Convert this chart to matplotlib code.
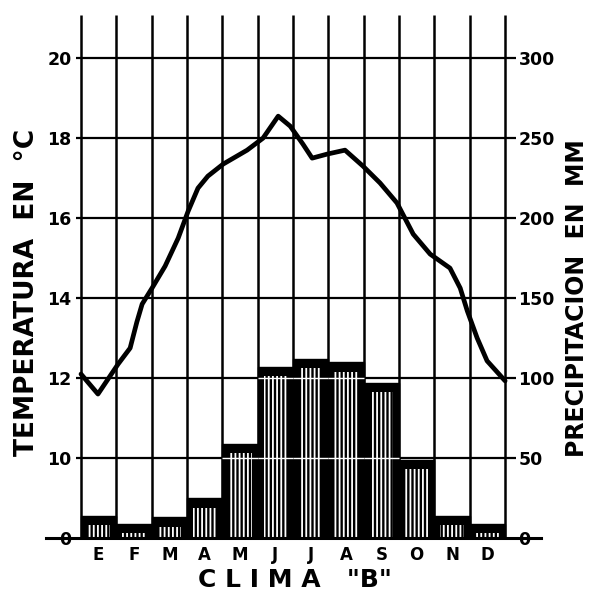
import matplotlib.pyplot as plt
import numpy as np

meses = ['E', 'F', 'M', 'A', 'M', 'J', 'J', 'A', 'S', 'O', 'N', 'D']
precipitacion = [14, 9, 13, 25, 59, 107, 112, 110, 97, 49, 14, 9]  # mm

# curva de temperatura (posicion en meses, grados C)
temp_x = [0.0, 0.48, 1.05, 1.39, 1.58, 1.73, 2.01, 2.38, 2.75, 3.03, 3.31, 3.59,
          4.02, 4.70, 5.15, 5.58, 5.92, 6.28, 6.54, 6.96, 7.47, 7.98, 8.46, 8.94,
          9.40, 9.88, 10.44, 10.73, 10.93, 11.21, 11.49, 12.0]
temp_y = [12.1, 11.6, 12.35, 12.75, 13.4, 13.85, 14.25, 14.8, 15.5, 16.17, 16.75, 17.05,
          17.35, 17.7, 18.0, 18.55, 18.3, 17.85, 17.5, 17.6, 17.7, 17.3, 16.88, 16.38,
          15.6, 15.1, 14.75, 14.25, 13.68, 13.0, 12.43, 11.93]

temp_ticks = [8, 10, 12, 14, 16, 18, 20]
temp_labels = ['0', '10', '12', '14', '16', '18', '20']
prec_ticks = [0, 50, 100, 150, 200, 250, 300]

plt.rcParams['font.family'] = 'DejaVu Sans'
plt.rcParams['font.weight'] = 'bold'
plt.rcParams['hatch.linewidth'] = 1.3

fig = plt.figure(figsize=(5.9, 5.97), dpi=100)
ax = fig.add_axes([75.7 / 590, 1 - 538 / 597, 440 / 590, 523 / 597])
ax2 = ax.twinx()
ax.set_zorder(ax2.get_zorder() + 1)
ax.patch.set_visible(False)

ax.set_xlim(-0.15, 12.3)
ax2.set_ylim(0, 327)
ax.set_ylim(8, 8 + 327 / 25)

# rejilla
for t in temp_ticks[1:]:
    ax2.axhline((t - 8) * 25, color='black', lw=1.6, zorder=1)
ax2.vlines(np.arange(13), 0, 327, color='black', lw=1.8, zorder=1)
ax2.plot([-0.99, 13.03], [0, 0], color='black', lw=2.2, clip_on=False, zorder=6)

# barras de precipitacion
x = np.arange(12) + 0.5
prec = np.array(precipitacion)
ax2.bar(x, prec, width=1.0, facecolor='black', edgecolor='black',
        linewidth=1, zorder=2)
ax2.bar(x, np.maximum(prec - 6, 0), width=0.66, facecolor='black',
        edgecolor='white', hatch='||||', linewidth=0, zorder=3)
# la rejilla se ve en blanco a traves de las barras
for nivel in [50, 100]:
    altas = x[prec > nivel + 4]
    ax2.hlines([nivel] * len(altas), altas - 0.5, altas + 0.5,
               color='white', lw=1.0, zorder=4)

# temperatura
ax.plot(temp_x, temp_y, color='black', lw=3.4, solid_capstyle='round',
        solid_joinstyle='round', zorder=5)

for a in (ax, ax2):
    for s in a.spines.values():
        s.set_visible(False)

ax.set_xticks(x)
ax.set_xticklabels(meses, fontsize=12, fontweight='bold')
ax.tick_params(axis='x', length=0, pad=6)
ax.set_yticks(temp_ticks)
ax.set_yticklabels(temp_labels, fontsize=12.5, fontweight='bold')
ax.tick_params(axis='y', length=0, pad=3)
ax2.set_yticks(prec_ticks)
ax2.set_yticklabels([str(p) for p in prec_ticks], fontsize=12.5, fontweight='bold')
ax2.tick_params(axis='y', length=0, pad=2)

fig.text(27 / 590, 1 - 292 / 597, 'TEMPERATURA  EN  °C', rotation=90,
         ha='center', va='center', fontsize=19, fontweight='bold')
fig.text(577 / 590, 1 - 298 / 597, 'PRECIPITACION  EN  MM', rotation=90,
         ha='center', va='center', fontsize=17, fontweight='bold')
fig.text(295 / 590, 1 - 580 / 597, 'C L I M A   "B"', ha='center', va='center',
         fontsize=18, fontweight='bold')

fig.savefig('out.png', dpi=100)
